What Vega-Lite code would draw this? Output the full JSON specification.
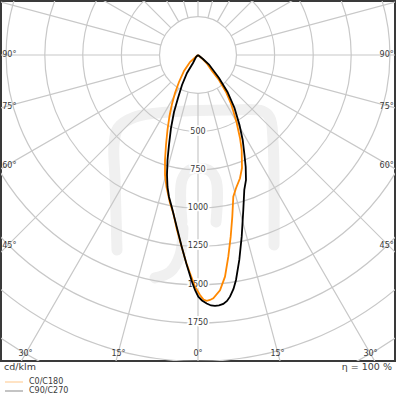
{
  "$schema": "https://vega.github.io/schema/vega-lite/v6.json",
  "width": 394,
  "height": 360,
  "autosize": {"type": "none"},
  "padding": {"left": 1, "top": 1, "right": 1, "bottom": 35},
  "background": "white",
  "config": {
    "view": {"stroke": "#3a3a3a", "strokeWidth": 2},
    "font": "DejaVu Sans"
  },
  "datasets": {
    "watermark": [
      {"part": "bracket", "i": 1, "x": -528.7, "y": -1272.8},
      {"part": "bracket", "i": 2, "x": -541.7, "y": -815.9},
      {"part": "bracket", "i": 3, "x": -548.3, "y": -587.4},
      {"part": "bracket", "i": 4, "x": -522.2, "y": -476.5},
      {"part": "bracket", "i": 5, "x": -411.2, "y": -404.7},
      {"part": "bracket", "i": 6, "x": -182.8, "y": -372.0},
      {"part": "bracket", "i": 7, "x": 208.9, "y": -359.0},
      {"part": "bracket", "i": 8, "x": 417.7, "y": -365.5},
      {"part": "bracket", "i": 9, "x": 469.9, "y": -411.2},
      {"part": "bracket", "i": 10, "x": 489.5, "y": -554.8},
      {"part": "bracket", "i": 11, "x": 496.1, "y": -1240.1},
      {"part": "inner", "i": 1, "x": -104.4, "y": -1090},
      {"part": "inner", "i": 2, "x": -104.4, "y": -816},
      {"part": "inner", "i": 3, "x": -52.2, "y": -750},
      {"part": "inner", "i": 4, "x": 65.3, "y": -750},
      {"part": "inner", "i": 5, "x": 117.5, "y": -816},
      {"part": "inner", "i": 6, "x": 117.5, "y": -1090},
      {"part": "hook", "i": 1, "x": -97.9, "y": -1129},
      {"part": "hook", "i": 2, "x": -117.5, "y": -1305},
      {"part": "hook", "i": 3, "x": -182.8, "y": -1416},
      {"part": "hook", "i": 4, "x": -280.7, "y": -1455}
    ],
    "rings": [
      {"r": 250}, {"r": 500}, {"r": 750}, {"r": 1000}, {"r": 1250},
      {"r": 1500}, {"r": 1750}, {"r": 2000}, {"r": 2250}, {"r": 2500}
    ],
    "spokes": [
      {"angle": 0}, {"angle": 15}, {"angle": 30}, {"angle": 45}, {"angle": 60}, {"angle": 75},
      {"angle": 90}, {"angle": 105}, {"angle": 120}, {"angle": 135}, {"angle": 150}, {"angle": 165},
      {"angle": 180}, {"angle": 195}, {"angle": 210}, {"angle": 225}, {"angle": 240}, {"angle": 255},
      {"angle": 270}, {"angle": 285}, {"angle": 300}, {"angle": 315}, {"angle": 330}, {"angle": 345}
    ],
    "ringlabels": [
      {"label": "500", "x": 0, "y": -500},
      {"label": "750", "x": 0, "y": -750},
      {"label": "1000", "x": 0, "y": -1000},
      {"label": "1250", "x": 0, "y": -1250},
      {"label": "1500", "x": 0, "y": -1500},
      {"label": "1750", "x": 0, "y": -1750}
    ],
    "anglelabels": [
      {"side": "left", "label": "90°", "x": -1278, "y": 0},
      {"side": "left", "label": "75°", "x": -1278, "y": -339},
      {"side": "left", "label": "60°", "x": -1278, "y": -724},
      {"side": "left", "label": "45°", "x": -1278, "y": -1247},
      {"side": "right", "label": "90°", "x": 1278, "y": 0},
      {"side": "right", "label": "75°", "x": 1278, "y": -339},
      {"side": "right", "label": "60°", "x": 1278, "y": -724},
      {"side": "right", "label": "45°", "x": 1278, "y": -1247},
      {"side": "bottom", "label": "30°", "x": -1126, "y": -1952},
      {"side": "bottom", "label": "15°", "x": -519, "y": -1952},
      {"side": "bottom", "label": "0°", "x": 0, "y": -1952},
      {"side": "bottom", "label": "15°", "x": 519, "y": -1952},
      {"side": "bottom", "label": "30°", "x": 1126, "y": -1952}
    ],
    "footer": [
      {"side": "left", "label": "cd/klm", "x": -1266, "y": -2036},
      {"side": "right", "label": "η = 100 %", "x": 1266, "y": -2036}
    ],
    "curves": [
      {"series": "C0/C180", "i": 1, "x": 0, "y": 0},
      {"series": "C0/C180", "i": 2, "x": -26.1, "y": -22.8},
      {"series": "C0/C180", "i": 3, "x": -52.2, "y": -45.7},
      {"series": "C0/C180", "i": 4, "x": -91.4, "y": -104.4},
      {"series": "C0/C180", "i": 5, "x": -124.0, "y": -176.2},
      {"series": "C0/C180", "i": 6, "x": -150.1, "y": -248.0},
      {"series": "C0/C180", "i": 7, "x": -169.7, "y": -319.8},
      {"series": "C0/C180", "i": 8, "x": -186.0, "y": -398.1},
      {"series": "C0/C180", "i": 9, "x": -199.1, "y": -489.5},
      {"series": "C0/C180", "i": 10, "x": -208.9, "y": -587.4},
      {"series": "C0/C180", "i": 11, "x": -215.4, "y": -685.3},
      {"series": "C0/C180", "i": 12, "x": -215.4, "y": -783.2},
      {"series": "C0/C180", "i": 13, "x": -205.6, "y": -861.6},
      {"series": "C0/C180", "i": 14, "x": -182.8, "y": -966.0},
      {"series": "C0/C180", "i": 15, "x": -161.2, "y": -1033.2},
      {"series": "C0/C180", "i": 16, "x": -137.1, "y": -1142.2},
      {"series": "C0/C180", "i": 17, "x": -106.4, "y": -1253.2},
      {"series": "C0/C180", "i": 18, "x": -78.3, "y": -1351.1},
      {"series": "C0/C180", "i": 19, "x": -52.2, "y": -1424.8},
      {"series": "C0/C180", "i": 20, "x": -19.6, "y": -1512.3},
      {"series": "C0/C180", "i": 21, "x": 13.1, "y": -1566.5},
      {"series": "C0/C180", "i": 22, "x": 35.9, "y": -1595.9},
      {"series": "C0/C180", "i": 23, "x": 56.8, "y": -1604.3},
      {"series": "C0/C180", "i": 24, "x": 78.3, "y": -1599.1},
      {"series": "C0/C180", "i": 25, "x": 99.9, "y": -1588.0},
      {"series": "C0/C180", "i": 26, "x": 143.6, "y": -1535.8},
      {"series": "C0/C180", "i": 27, "x": 176.2, "y": -1447.0},
      {"series": "C0/C180", "i": 28, "x": 197.8, "y": -1316.5},
      {"series": "C0/C180", "i": 29, "x": 213.4, "y": -1185.9},
      {"series": "C0/C180", "i": 30, "x": 223.9, "y": -1055.4},
      {"series": "C0/C180", "i": 31, "x": 230.4, "y": -924.9},
      {"series": "C0/C180", "i": 32, "x": 248.0, "y": -870.0},
      {"series": "C0/C180", "i": 33, "x": 274.1, "y": -804.8},
      {"series": "C0/C180", "i": 34, "x": 287.2, "y": -737.6},
      {"series": "C0/C180", "i": 35, "x": 285.2, "y": -620.1},
      {"series": "C0/C180", "i": 36, "x": 274.1, "y": -541.7},
      {"series": "C0/C180", "i": 37, "x": 251.3, "y": -437.3},
      {"series": "C0/C180", "i": 38, "x": 218.7, "y": -326.4},
      {"series": "C0/C180", "i": 39, "x": 182.8, "y": -241.5},
      {"series": "C0/C180", "i": 40, "x": 137.1, "y": -163.2},
      {"series": "C0/C180", "i": 41, "x": 91.4, "y": -104.4},
      {"series": "C0/C180", "i": 42, "x": 56.8, "y": -54.2},
      {"series": "C0/C180", "i": 43, "x": 26.1, "y": -22.8},
      {"series": "C0/C180", "i": 44, "x": 0, "y": 0},
      {"series": "C90/C270", "i": 1, "x": 0, "y": 0},
      {"series": "C90/C270", "i": 2, "x": -13.1, "y": -13.1},
      {"series": "C90/C270", "i": 3, "x": -32.6, "y": -52.2},
      {"series": "C90/C270", "i": 4, "x": -71.8, "y": -117.5},
      {"series": "C90/C270", "i": 5, "x": -104.4, "y": -195.8},
      {"series": "C90/C270", "i": 6, "x": -130.5, "y": -280.7},
      {"series": "C90/C270", "i": 7, "x": -156.6, "y": -372.0},
      {"series": "C90/C270", "i": 8, "x": -176.2, "y": -476.5},
      {"series": "C90/C270", "i": 9, "x": -189.3, "y": -587.4},
      {"series": "C90/C270", "i": 10, "x": -199.1, "y": -685.3},
      {"series": "C90/C270", "i": 11, "x": -202.3, "y": -783.2},
      {"series": "C90/C270", "i": 12, "x": -199.1, "y": -861.6},
      {"series": "C90/C270", "i": 13, "x": -189.3, "y": -926.8},
      {"series": "C90/C270", "i": 14, "x": -171.7, "y": -990.1},
      {"series": "C90/C270", "i": 15, "x": -139.0, "y": -1120.7},
      {"series": "C90/C270", "i": 16, "x": -107.7, "y": -1246.7},
      {"series": "C90/C270", "i": 17, "x": -75.1, "y": -1364.1},
      {"series": "C90/C270", "i": 18, "x": -41.1, "y": -1475.1},
      {"series": "C90/C270", "i": 19, "x": -19.6, "y": -1533.8},
      {"series": "C90/C270", "i": 20, "x": 2.0, "y": -1577.6},
      {"series": "C90/C270", "i": 21, "x": 26.1, "y": -1602.4},
      {"series": "C90/C270", "i": 22, "x": 56.8, "y": -1622.0},
      {"series": "C90/C270", "i": 23, "x": 84.9, "y": -1635.1},
      {"series": "C90/C270", "i": 24, "x": 111.0, "y": -1638.3},
      {"series": "C90/C270", "i": 25, "x": 137.1, "y": -1635.1},
      {"series": "C90/C270", "i": 26, "x": 165.1, "y": -1625.2},
      {"series": "C90/C270", "i": 27, "x": 189.3, "y": -1605.6},
      {"series": "C90/C270", "i": 28, "x": 208.9, "y": -1577.6},
      {"series": "C90/C270", "i": 29, "x": 231.7, "y": -1527.3},
      {"series": "C90/C270", "i": 30, "x": 248.0, "y": -1468.6},
      {"series": "C90/C270", "i": 31, "x": 269.6, "y": -1338.0},
      {"series": "C90/C270", "i": 32, "x": 285.2, "y": -1186.0},
      {"series": "C90/C270", "i": 33, "x": 295.7, "y": -1011.7},
      {"series": "C90/C270", "i": 34, "x": 302.2, "y": -881.1},
      {"series": "C90/C270", "i": 35, "x": 313.3, "y": -815.9},
      {"series": "C90/C270", "i": 36, "x": 311.3, "y": -729.1},
      {"series": "C90/C270", "i": 37, "x": 303.5, "y": -652.7},
      {"series": "C90/C270", "i": 38, "x": 291.8, "y": -554.8},
      {"series": "C90/C270", "i": 39, "x": 270.9, "y": -456.9},
      {"series": "C90/C270", "i": 40, "x": 238.2, "y": -345.9},
      {"series": "C90/C270", "i": 41, "x": 192.5, "y": -241.5},
      {"series": "C90/C270", "i": 42, "x": 137.1, "y": -150.1},
      {"series": "C90/C270", "i": 43, "x": 71.8, "y": -62.0},
      {"series": "C90/C270", "i": 44, "x": 32.6, "y": -26.1},
      {"series": "C90/C270", "i": 45, "x": 0, "y": 0}
    ]
  },
  "layer": [
    {
      "data": {"name": "watermark"},
      "mark": {"type": "line", "color": "#f0f0f0", "strokeWidth": 11, "strokeCap": "round", "strokeJoin": "round", "interpolate": "catmull-rom", "clip": true},
      "encoding": {
        "x": {"field": "x", "type": "quantitative", "scale": {"domain": [-1286, 1286], "nice": false, "zero": false}, "axis": null},
        "y": {"field": "y", "type": "quantitative", "scale": {"domain": [-1997.6, 352.5], "nice": false, "zero": false}, "axis": null},
        "detail": {"field": "part"},
        "order": {"field": "i", "type": "quantitative"}
      }
    },
    {
      "data": {"name": "rings"},
      "mark": {"type": "arc", "theta": 0, "theta2": 6.2832, "filled": false, "stroke": "#c8c8c8", "strokeWidth": 1.2, "clip": true},
      "encoding": {
        "x": {"datum": 0, "type": "quantitative", "scale": {"domain": [-1286, 1286], "nice": false, "zero": false}, "axis": null},
        "y": {"datum": 0, "type": "quantitative", "scale": {"domain": [-1997.6, 352.5], "nice": false, "zero": false}, "axis": null},
        "radius": {"field": "r", "type": "quantitative", "stack": null, "scale": {"type": "linear", "domain": [0, 1000], "range": [0, 153.19], "nice": false, "zero": true}}
      }
    },
    {
      "data": {"name": "spokes"},
      "mark": {"type": "arc", "filled": false, "stroke": "#c8c8c8", "strokeWidth": 1.2, "clip": true},
      "encoding": {
        "x": {"datum": 0, "type": "quantitative", "scale": {"domain": [-1286, 1286], "nice": false, "zero": false}, "axis": null},
        "y": {"datum": 0, "type": "quantitative", "scale": {"domain": [-1997.6, 352.5], "nice": false, "zero": false}, "axis": null},
        "theta": {"field": "angle", "type": "quantitative", "stack": null, "scale": {"type": "linear", "domain": [0, 360], "range": [0, 6.283185], "zero": true, "nice": false}},
        "theta2": {"field": "angle"},
        "radius": {"datum": 250, "type": "quantitative", "stack": null, "scale": {"type": "linear", "domain": [0, 1000], "range": [0, 153.19], "nice": false, "zero": true}},
        "radius2": {"datum": 2700}
      }
    },
    {
      "data": {"name": "ringlabels"},
      "mark": {"type": "text", "fontSize": 8, "align": "center", "baseline": "middle", "fill": "white", "stroke": "white", "strokeWidth": 3.5},
      "encoding": {
        "x": {"field": "x", "type": "quantitative", "scale": {"domain": [-1286, 1286], "nice": false, "zero": false}, "axis": null},
        "y": {"field": "y", "type": "quantitative", "scale": {"domain": [-1997.6, 352.5], "nice": false, "zero": false}, "axis": null},
        "text": {"field": "label"}
      }
    },
    {
      "data": {"name": "ringlabels"},
      "mark": {"type": "text", "fontSize": 8, "align": "center", "baseline": "middle", "fill": "#3a3a3a"},
      "encoding": {
        "x": {"field": "x", "type": "quantitative", "scale": {"domain": [-1286, 1286], "nice": false, "zero": false}, "axis": null},
        "y": {"field": "y", "type": "quantitative", "scale": {"domain": [-1997.6, 352.5], "nice": false, "zero": false}, "axis": null},
        "text": {"field": "label"}
      }
    },
    {
      "data": {"name": "anglelabels"},
      "transform": [{"filter": "datum.side === 'left'"}],
      "mark": {"type": "text", "fontSize": 8, "align": "left", "baseline": "middle", "fill": "#3a3a3a"},
      "encoding": {
        "x": {"field": "x", "type": "quantitative", "scale": {"domain": [-1286, 1286], "nice": false, "zero": false}, "axis": null},
        "y": {"field": "y", "type": "quantitative", "scale": {"domain": [-1997.6, 352.5], "nice": false, "zero": false}, "axis": null},
        "text": {"field": "label"}
      }
    },
    {
      "data": {"name": "anglelabels"},
      "transform": [{"filter": "datum.side === 'right'"}],
      "mark": {"type": "text", "fontSize": 8, "align": "right", "baseline": "middle", "fill": "#3a3a3a"},
      "encoding": {
        "x": {"field": "x", "type": "quantitative", "scale": {"domain": [-1286, 1286], "nice": false, "zero": false}, "axis": null},
        "y": {"field": "y", "type": "quantitative", "scale": {"domain": [-1997.6, 352.5], "nice": false, "zero": false}, "axis": null},
        "text": {"field": "label"}
      }
    },
    {
      "data": {"name": "anglelabels"},
      "transform": [{"filter": "datum.side === 'bottom'"}],
      "mark": {"type": "text", "fontSize": 8, "align": "center", "baseline": "middle", "fill": "#3a3a3a"},
      "encoding": {
        "x": {"field": "x", "type": "quantitative", "scale": {"domain": [-1286, 1286], "nice": false, "zero": false}, "axis": null},
        "y": {"field": "y", "type": "quantitative", "scale": {"domain": [-1997.6, 352.5], "nice": false, "zero": false}, "axis": null},
        "text": {"field": "label"}
      }
    },
    {
      "data": {"name": "curves"},
      "mark": {"type": "line", "strokeWidth": 1.8, "interpolate": "linear", "clip": true},
      "encoding": {
        "x": {"field": "x", "type": "quantitative", "scale": {"domain": [-1286, 1286], "nice": false, "zero": false}, "axis": null},
        "y": {"field": "y", "type": "quantitative", "scale": {"domain": [-1997.6, 352.5], "nice": false, "zero": false}, "axis": null},
        "order": {"field": "i", "type": "quantitative"},
        "color": {
          "field": "series", "type": "nominal",
          "scale": {"domain": ["C0/C180", "C90/C270"], "range": ["#ff8800", "#000000"]},
          "legend": {
            "orient": "none", "legendX": 8, "legendY": 376, "direction": "vertical", "title": null,
            "symbolType": "M-2.25,0H2.25", "symbolSize": 64, "symbolStrokeWidth": 1.2, "symbolOpacity": 0.38,
            "labelFontSize": 8, "labelColor": "#3a3a3a", "labelOffset": 10, "rowPadding": 0, "padding": 0
          }
        }
      }
    },
    {
      "data": {"name": "footer"},
      "transform": [{"filter": "datum.side === 'left'"}],
      "mark": {"type": "text", "fontSize": 9.5, "align": "left", "baseline": "middle", "fill": "#3a3a3a"},
      "encoding": {
        "x": {"field": "x", "type": "quantitative", "scale": {"domain": [-1286, 1286], "nice": false, "zero": false}, "axis": null},
        "y": {"field": "y", "type": "quantitative", "scale": {"domain": [-1997.6, 352.5], "nice": false, "zero": false}, "axis": null},
        "text": {"field": "label"}
      }
    },
    {
      "data": {"name": "footer"},
      "transform": [{"filter": "datum.side === 'right'"}],
      "mark": {"type": "text", "fontSize": 9.5, "align": "right", "baseline": "middle", "fill": "#3a3a3a"},
      "encoding": {
        "x": {"field": "x", "type": "quantitative", "scale": {"domain": [-1286, 1286], "nice": false, "zero": false}, "axis": null},
        "y": {"field": "y", "type": "quantitative", "scale": {"domain": [-1997.6, 352.5], "nice": false, "zero": false}, "axis": null},
        "text": {"field": "label"}
      }
    }
  ]
}
